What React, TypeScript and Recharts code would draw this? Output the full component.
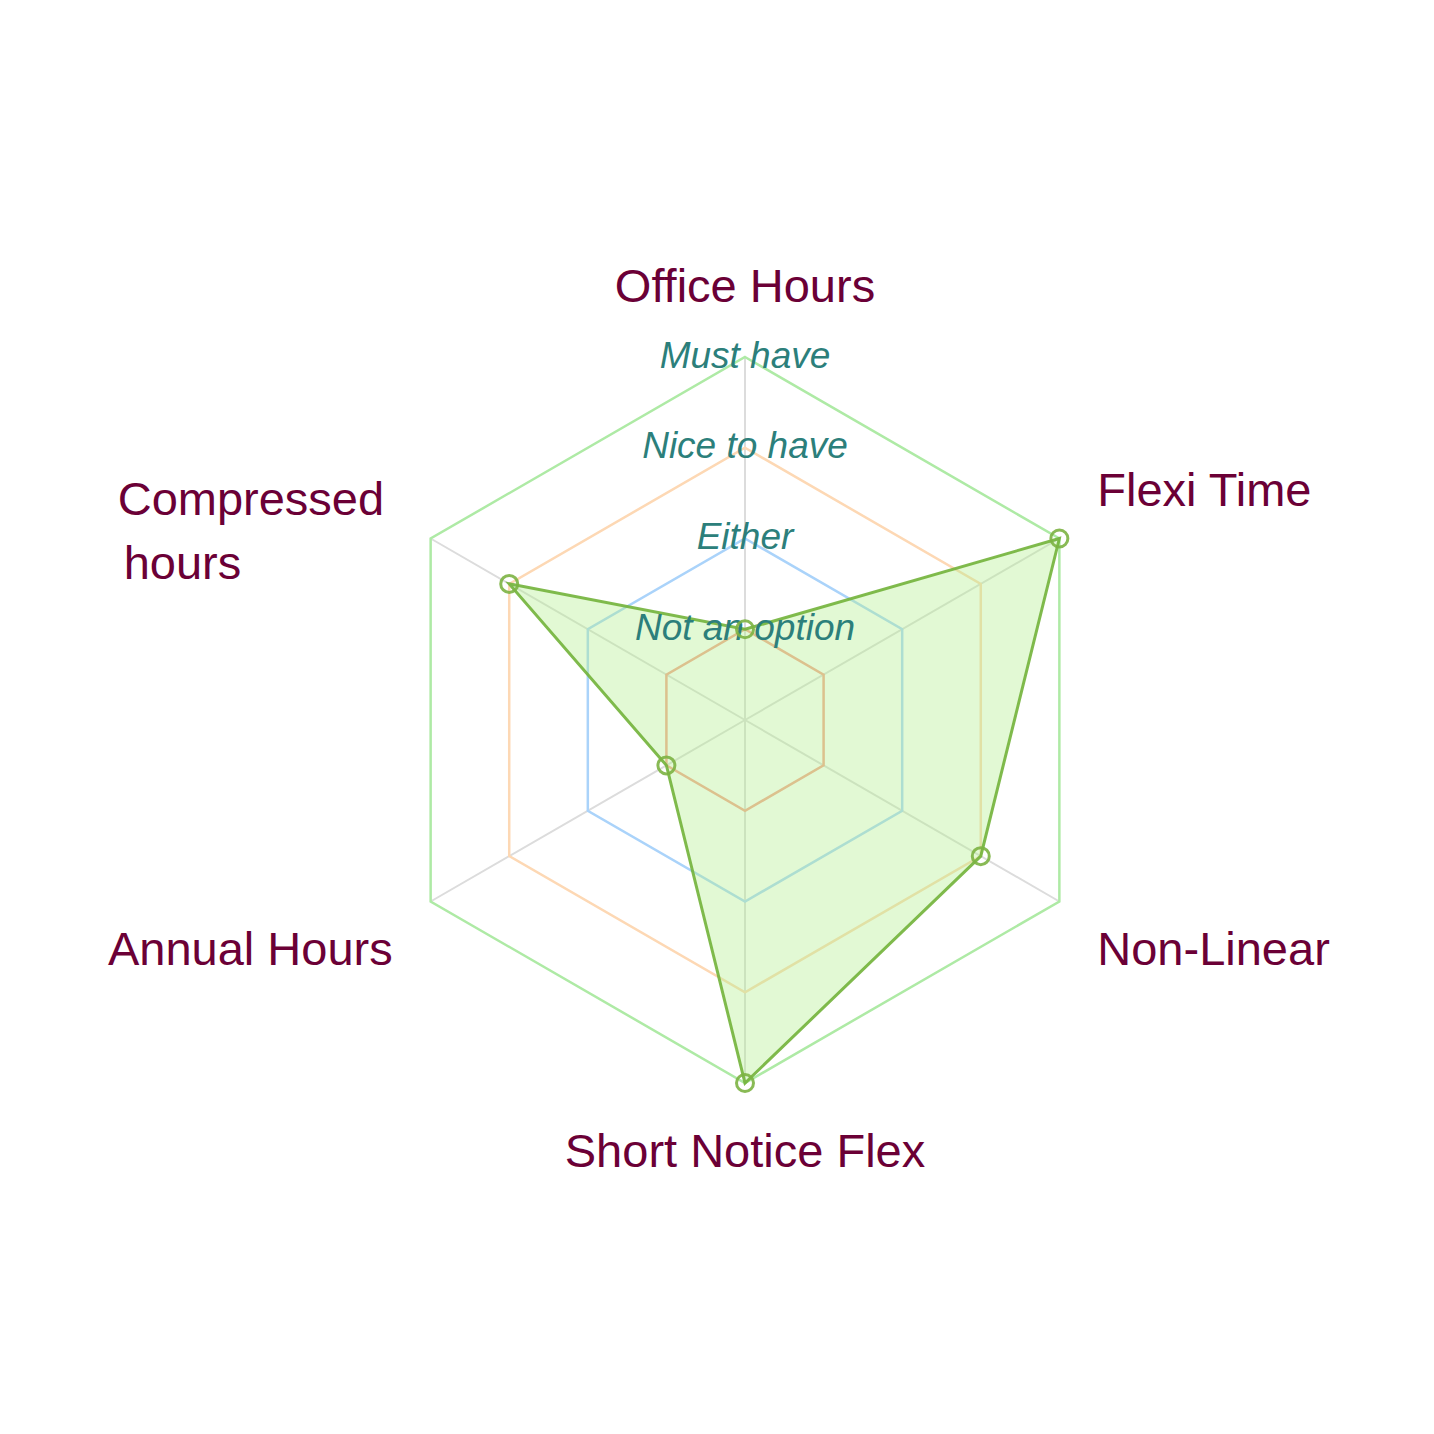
import React from "react";
import { RadarChart, Radar, PolarGrid, PolarAngleAxis, PolarRadiusAxis } from "recharts";

// axes, clockwise from the top
const categories = ["Office Hours", "Flexi Time", "Non-Linear", "Short Notice Flex", "Annual Hours", "Compressed\nhours"];
const preferenceValues = [1, 4, 3, 4, 1, 3];
const levelLabels = ["", "Not an option", "Either", "Nice to have", "Must have"];
const ringLevels = [1, 2, 3, 4];
const ringColors = ["#f5a58e", "#aad3fa", "#fdd8b4", "#aeeaa5"];

const data = categories.map((subject, i) => {
    const row: Record<string, string | number> = { subject, value: preferenceValues[i] };
    ringLevels.forEach((lvl) => {
        row[`ring${lvl}`] = lvl;
    });
    return row;
});

const FONT = "'Liberation Sans', Arial, sans-serif";
const CX = 745;
const CY = 720;

const AngleTick = (props: any) => {
    const { x, y, payload } = props;
    const lines: string[] = String(payload.value).split("\n");
    const dx = x - CX;
    const dy = y - CY;
    let anchor: "start" | "middle" | "end" = "middle";
    let tx = x;
    let ty = y;
    if (Math.abs(dx) < 1) {
        ty = dy < 0 ? y - 64 : y + 59;
    } else if (dx > 0) {
        anchor = "start";
        tx = x + 31;
        ty = dy < 0 ? y - 46 : y + 42;
    } else {
        anchor = "end";
        tx = x - 31;
        ty = dy < 0 ? y - 46 : y + 42;
    }
    if (lines.length > 1) {
        anchor = "start";
        tx = x - 306;
        ty = y - 37;
    }
    return (
        <text
            x={tx}
            y={ty}
            textAnchor={anchor}
            dominantBaseline="central"
            fill="#6b0036"
            fontSize={47}
            fontFamily={FONT}
        >
            {lines.map((ln, i) => (
                <tspan key={i} x={tx + (i > 0 ? 6 : 0)} dy={i === 0 ? 0 : 64}>
                    {ln}
                </tspan>
            ))}
        </text>
    );
};

const RadiusTick = (props: any) => {
    const { x, y, payload } = props;
    const label = levelLabels[Math.round(payload.value)];
    if (!label) return null;
    return (
        <text
            x={x}
            y={y - 2}
            textAnchor="middle"
            dominantBaseline="central"
            fill="#2c7f7b"
            fontSize={37}
            fontStyle="italic"
            fontFamily={FONT}
        >
            {label}
        </text>
    );
};

export default function App() {
    return (
        <div style={{ position: "absolute", left: 0, top: 0, width: 1434, height: 1434, background: "#fff" }}>
            <RadarChart
                width={1434}
                height={1434}
                data={data}
                cx={CX}
                cy={CY}
                outerRadius={363}
                margin={{ top: 0, right: 0, bottom: 0, left: 0 }}
            >
                <PolarGrid gridType="polygon" stroke="#dcdcdc" strokeWidth={2} polarRadius={[0]} />
                {ringLevels.map((lvl, i) => (
                    <Radar
                        key={lvl}
                        dataKey={`ring${lvl}`}
                        stroke={ringColors[i]}
                        strokeWidth={2.5}
                        fill="none"
                        fillOpacity={0}
                        dot={false}
                        activeDot={false}
                        legendType="none"
                        isAnimationActive={false}
                    />
                ))}
                <PolarAngleAxis dataKey="subject" tick={<AngleTick />} tickLine={false} axisLine={false} />
                <PolarRadiusAxis
                    angle={90}
                    domain={[0, 4]}
                    tickCount={5}
                    tick={<RadiusTick />}
                    axisLine={false}
                    tickLine={false}
                />
                <Radar
                    dataKey="value"
                    stroke="#72b23a"
                    strokeOpacity={0.9}
                    strokeWidth={3}
                    fill="#b4f08f"
                    fillOpacity={0.38}
                    dot={{ r: 8.5, stroke: "#7cb342", strokeWidth: 3, fill: "none" }}
                    isAnimationActive={false}
                />
            </RadarChart>
        </div>
    );
}
